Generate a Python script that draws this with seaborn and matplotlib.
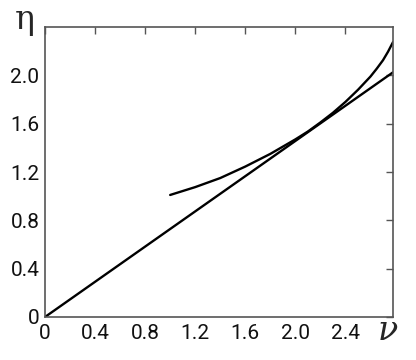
import matplotlib
matplotlib.use("Agg")
import matplotlib.pyplot as plt
import seaborn as sns
import pandas as pd
from matplotlib.ticker import FuncFormatter

sns.set_style("white")
plt.rcParams['font.family'] = ['Roboto', 'DejaVu Sans']

# straight line
line_nu = [0.0, 2.78]
line_eta = [0.0, 2.025]
# curve
curve_nu = [1.0, 1.2, 1.4, 1.6, 1.8, 2.0, 2.1, 2.2, 2.3, 2.4, 2.5, 2.6, 2.65, 2.7, 2.74, 2.78]
curve_eta = [1.01, 1.075, 1.15, 1.245, 1.35, 1.47, 1.535, 1.61, 1.69, 1.78, 1.88, 1.99, 2.055, 2.125, 2.195, 2.275]

xticks = [0, 0.4, 0.8, 1.2, 1.6, 2.0, 2.4]
yticks = [0, 0.4, 0.8, 1.2, 1.6, 2.0]

df_line = pd.DataFrame({"nu": line_nu, "eta": line_eta})
df_curve = pd.DataFrame({"nu": curve_nu, "eta": curve_eta})

fig = plt.figure(figsize=(4.16, 3.6), dpi=100)
ax = fig.add_axes([45/416, 1-317/360, (393-45)/416, (317-27)/360])

sns.lineplot(data=df_line, x="nu", y="eta", ax=ax, color="black", lw=1.7, sort=False)
sns.lineplot(data=df_curve, x="nu", y="eta", ax=ax, color="black", lw=1.7, sort=False)

ax.set_xlim(0, 2.78)
ax.set_ylim(0, 2.4)
ax.set_xticks(xticks)
ax.set_yticks(yticks)
fmt = FuncFormatter(lambda v, p: "0" if abs(v) < 1e-9 else f"{v:.1f}")
ax.xaxis.set_major_formatter(fmt)
ax.yaxis.set_major_formatter(fmt)
ax.set_xlabel("")
ax.set_ylabel("")
ax.tick_params(direction="in", length=5, width=1, color="#555555",
               top=True, right=True, labelsize=15, labelcolor="#111111")
ax.tick_params(axis="x", pad=5)
ax.tick_params(axis="y", pad=4)
for s in ax.spines.values():
    s.set_color("#555555")
    s.set_linewidth(1.2)
    s.set_visible(True)

fig.text(25/416, 1-20/360, "η", fontsize=24, ha="center", va="center", family="DejaVu Serif")
fig.text(388/416, 1-331/360, "ν", fontsize=24, ha="center", va="center", family="DejaVu Serif",
         style="italic")

fig.savefig("out.png", dpi=100)
